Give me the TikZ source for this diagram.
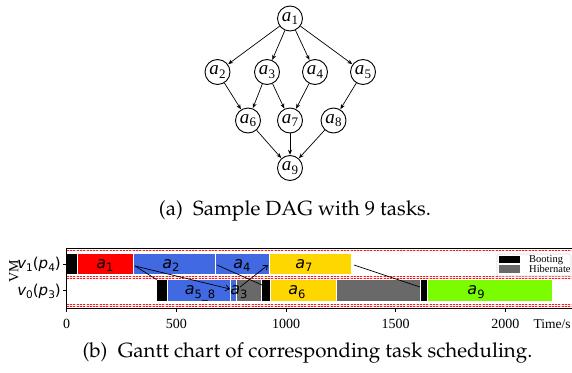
\documentclass[tikz,border=0pt]{standalone}
\usepackage[T1]{fontenc}
\usepackage{fontspec}
\setmainfont{Liberation Serif}
\newfontfamily\dvfont{DejaVu Sans}
\newcommand\palfont{\fontencoding{T1}\fontfamily{ppl}\selectfont}
\usetikzlibrary{arrows.meta}
\newcommand\dagl[1]{\textit{a}\kern0.3pt\raisebox{-3.5pt}{\fontsize{13}{13}\selectfont #1}}
\newcommand\gl[1]{{\dvfont\itshape a}\raisebox{-3.2pt}{\dvfont\fontsize{11.5}{12}\selectfont #1}}
\newcommand\vml[2]{{\dvfont\itshape v}\raisebox{-3pt}{\dvfont\fontsize{10.5}{11}\selectfont #1}{\dvfont (\itshape p}\raisebox{-3pt}{\dvfont\fontsize{10.5}{11}\selectfont #2}{\dvfont )}}
\definecolor{hib}{RGB}{105,105,105}
\definecolor{rblue}{RGB}{65,105,225}
\definecolor{gold}{RGB}{255,215,0}
\definecolor{lgreen}{RGB}{124,252,0}
\tikzset{
  dag/.style={circle,draw,line width=0.9pt,minimum size=25pt,inner sep=0pt,font=\fontsize{19}{19}\selectfont},
  dagedge/.style={-{Stealth[length=5pt,width=4pt]},line width=0.7pt,shorten >=0.3pt},
  bartile/.style={draw=white,line width=0.7pt},
  glab/.style={anchor=base,inner sep=0pt,font=\fontsize{16}{16}\selectfont},
  pinkl/.style={red!22,line width=0.8pt},
  redl/.style={red!90,line width=0.5pt,dash pattern=on 2pt off 1.3pt},
  spine/.style={line width=0.9pt,black},
  garrow/.style={line width=0.7pt,-{Straight Barb[length=4pt,width=6pt]}},
  gline/.style={line width=0.7pt},
  ticklab/.style={anchor=base,inner sep=0pt,font=\fontsize{14}{14}\selectfont},
  captext/.style={anchor=base,inner sep=0pt,font=\palfont\fontsize{20.5}{25}\selectfont},
  declare function={tx(\t)=66.7+0.2193*\t;}
}
\begin{document}
\begin{tikzpicture}[x=1pt,y=-1pt]
\useasboundingbox (0,0) rectangle (572,372);
% ---------- DAG ----------
\node[dag] (a1) at (290,18.5) {\dagl{1}};
\node[dag] (a2) at (217.5,72) {\dagl{2}};
\node[dag] (a3) at (267,72) {\dagl{3}};
\node[dag] (a4) at (315,72) {\dagl{4}};
\node[dag] (a5) at (363,72) {\dagl{5}};
\node[dag] (a6) at (248,120.5) {\dagl{6}};
\node[dag] (a7) at (290,120.5) {\dagl{7}};
\node[dag] (a8) at (333.5,120.5) {\dagl{8}};
\node[dag] (a9) at (290,168) {\dagl{9}};
\foreach \s/\t in {a1/a2,a1/a3,a1/a4,a1/a5,a2/a6,a3/a6,a3/a7,a4/a7,a5/a8,a6/a9,a7/a9,a8/a9}
  \draw[dagedge] (\s) -- (\t);
\node[captext] (capa) at (295,215) {(a)\enskip Sample DAG with 9 tasks.};
% ---------- Gantt ----------
\foreach \yy in {250.7,276.3,278.1,304,306}{
  \draw[pinkl] (66.7,\yy) -- (572,\yy);
  \draw[redl] (66.7,\yy) -- (572,\yy);
}
% v1 row
\draw[bartile,fill=black] ({tx(0)},253.5) rectangle ({tx(50)},274.5);
\draw[bartile,fill=red] ({tx(50)},253.5) rectangle ({tx(305)},274.5);
\draw[bartile,fill=rblue] ({tx(305)},253.5) rectangle ({tx(677)},274.5);
\draw[bartile,fill=rblue] ({tx(677)},253.5) rectangle ({tx(924)},274.5);
\draw[bartile,fill=gold] ({tx(924)},253.5) rectangle ({tx(1300)},274.5);
% v0 row
\draw[bartile,fill=black] ({tx(407)},279.7) rectangle ({tx(459)},301.3);
\draw[bartile,fill=rblue] ({tx(459)},279.7) rectangle ({tx(748)},301.3);
\draw[bartile,fill=rblue] ({tx(748)},279.7) rectangle ({tx(775)},301.3);
\draw[bartile,fill=hib] ({tx(775)},279.7) rectangle ({tx(889)},301.3);
\draw[bartile,fill=black] ({tx(889)},279.7) rectangle ({tx(927)},301.3);
\draw[bartile,fill=gold] ({tx(927)},279.7) rectangle ({tx(1231)},301.3);
\draw[bartile,fill=hib] ({tx(1231)},279.7) rectangle ({tx(1611)},301.3);
\draw[bartile,fill=black] ({tx(1611)},279.7) rectangle ({tx(1646)},301.3);
\draw[bartile,fill=lgreen] ({tx(1646)},279.7) rectangle ({tx(2216)},301.3);
% labels
\node[glab] (g1) at (105,268.3) {\gl{1}};
\node[glab] (g2) at (171,268.3) {\gl{2}};
\node[glab] (g4) at (242,268.3) {\gl{4}};
\node[glab] (g7) at (304,268.3) {\gl{7}};
\node[glab] (g58) at (200,294.8) {\gl{5\_8}};
\node[glab] (g3) at (239,294.8) {\gl{3}};
\node[glab] (g6) at (297,294.8) {\gl{6}};
\node[glab] (g9) at (476,294.8) {\gl{9}};
% connectors
\coordinate (p1) at (135,266);
\coordinate (p2) at (230,289);
\coordinate (p3) at (156.5,279.5);
\coordinate (p4) at (217,265);
\coordinate (p5) at (262,285);
\coordinate (p6) at (240,287);
\coordinate (p7) at (268,265);
\coordinate (p8) at (354,265);
\coordinate (p9) at (420,287);
\draw[garrow] (p1) -- (p2);
\draw[gline] (p1) -- (p3);
\draw[gline] (p4) -- (p5);
\draw[garrow] (p6) -- (p7);
\draw[gline] (p8) -- (p9);
% axes
\draw[spine] (66.7,248) -- (572,248);
\draw[spine] (66.7,308.3) -- (572,308.3);
\draw[spine] (66.7,248) -- (66.7,308.3);
\foreach \v in {0,500,1000,1500,2000}{
  \draw[line width=0.8pt] ({tx(\v)},308.3) -- ({tx(\v)},312);
  \node[ticklab] at ({tx(\v)},328.3) {\v};
}
\draw[line width=0.8pt] (66.7,264) -- (62.7,264);
\draw[line width=0.8pt] (66.7,290.5) -- (62.7,290.5);
\node[anchor=base east,inner sep=0pt,font=\fontsize{15}{15}\selectfont] (y1) at (61,268.8) {\vml{1}{4}};
\node[anchor=base east,inner sep=0pt,font=\fontsize{15}{15}\selectfont] (y0) at (61,295.2) {\vml{0}{3}};
\node[rotate=90,inner sep=0pt,font=\fontsize{14}{14}\selectfont] (vm) at (14,271) {VM};
\node[anchor=base west,inner sep=0pt,font=\fontsize{13.5}{14}\selectfont] (ts) at (533.5,328.3) {Time/s};
% legend
\draw[draw=black!15,fill=white,rounded corners=1.5pt,line width=0.6pt] (497,254) rectangle (571,276);
\fill[black] (498.5,255.5) rectangle (520,263.3);
\fill[hib] (498.5,265) rectangle (520,273.3);
\node[anchor=base west,inner sep=0pt,font=\fontsize{10.5}{10.5}\selectfont] (lb) at (529,262.5) {Booting};
\node[anchor=base west,inner sep=0pt,font=\fontsize{10.5}{10.5}\selectfont] (lh) at (529,272.5) {Hibernate};
\node[captext] (capb) at (307.5,357) {(b)\enskip Gantt chart of corresponding task scheduling.};
\end{tikzpicture}
\end{document}
